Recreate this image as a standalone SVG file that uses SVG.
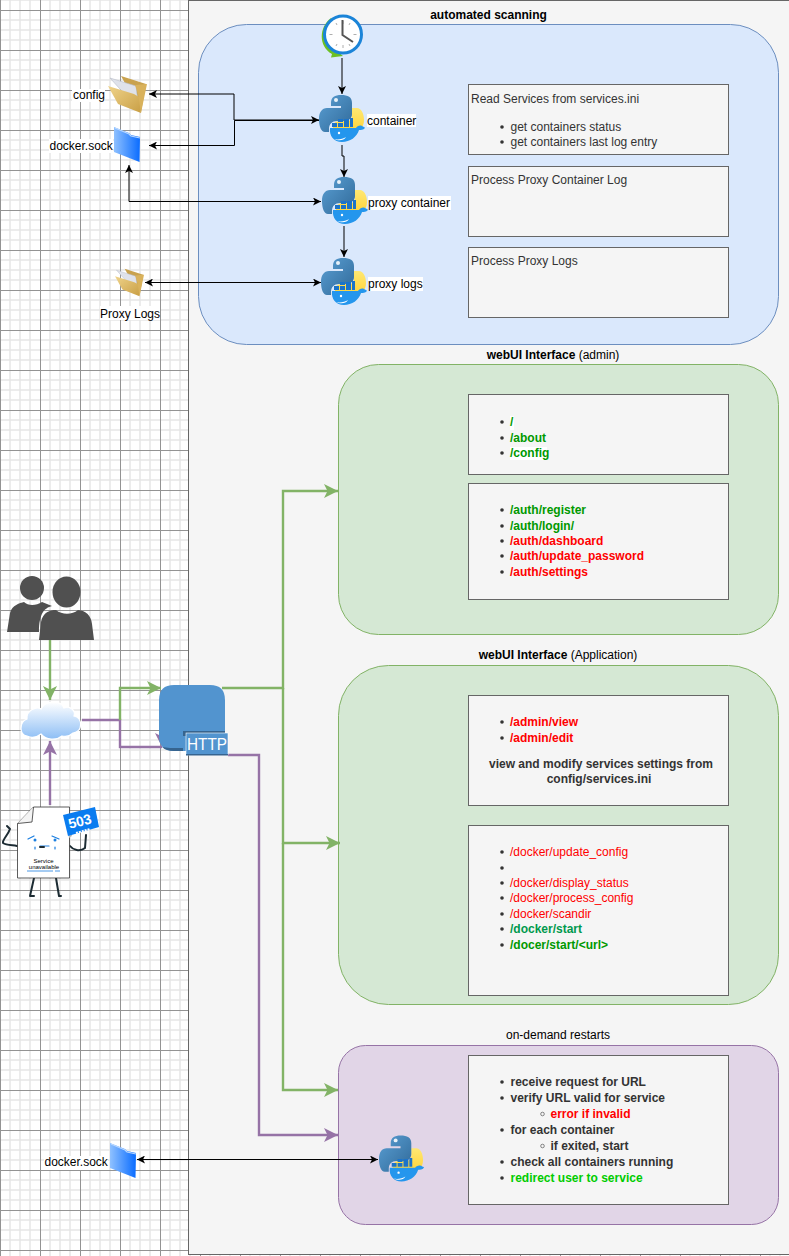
<svg xmlns="http://www.w3.org/2000/svg" width="789" height="1256" viewBox="0 0 789 1256">
<style>
text{font-family:"Liberation Sans",Arial,Helvetica,sans-serif;font-size:12px;fill:#000}
.t{fill:#333}
.b{font-weight:bold}
.r{fill:#f00}
.g{fill:#090}
.c{text-anchor:middle}
.box{fill:#f5f5f5;stroke:#666;stroke-width:1}
.bg{fill:#fff}
.dot{fill:#333}
.sub{fill:none;stroke:#555;stroke-width:.7}
.k{fill:none;stroke:#000;stroke-width:1}
.gr{fill:none;stroke:#82b366;stroke-width:2.4;marker-end:url(#ag)}
.pu{fill:none;stroke:#9673a6;stroke-width:2.4}
.limb{fill:none;stroke:#1c2b33;stroke-width:2;stroke-linecap:round;stroke-linejoin:round}
.face{fill:none;stroke:#1c7fe0;stroke-width:1.2;stroke-linecap:round}
</style>
<defs>
<pattern id="grid" width="40" height="40" x="0" y="10" patternUnits="userSpaceOnUse">
<path d="M10 0V40M20 0V40M30 0V40M0 10H40M0 20H40M0 30H40" stroke="#e6e6e6" stroke-width="1.5" fill="none"/>
<path d="M.5 0V40M0 .5H40" stroke="#939393" stroke-width="1" fill="none"/>
</pattern>
<marker id="ak" viewBox="0 0 10 10" refX="10" refY="5" markerUnits="userSpaceOnUse" markerWidth="8" markerHeight="8" orient="auto-start-reverse"><path d="M0 0L10 5L0 10L2.5 5Z" fill="#000"/></marker>
<marker id="ag" viewBox="0 0 10 10" refX="10" refY="5" markerUnits="userSpaceOnUse" markerWidth="14" markerHeight="14" orient="auto"><path d="M0 0L10 5L0 10L2.5 5Z" fill="#82b366"/></marker>
<marker id="ap" viewBox="0 0 10 10" refX="10" refY="5" markerUnits="userSpaceOnUse" markerWidth="14" markerHeight="14" orient="auto"><path d="M0 0L10 5L0 10L2.5 5Z" fill="#9673a6"/></marker>
<marker id="apd" viewBox="0 0 10 10" refX="10" refY="5" markerUnits="userSpaceOnUse" markerWidth="14" markerHeight="14" orient="90"><path d="M0 0L10 5L0 10L2.5 5Z" fill="#9673a6"/></marker>
<linearGradient id="py1" x1="0" y1="0" x2="1" y2="1"><stop offset="0" stop-color="#5a9fd4"/><stop offset="1" stop-color="#306998"/></linearGradient>
<linearGradient id="py2" x1="0" y1="0" x2="0" y2="1"><stop offset="0" stop-color="#ffe873"/><stop offset="1" stop-color="#ffd43b"/></linearGradient>
<linearGradient id="fb" x1="0" y1="0" x2="1" y2="0"><stop offset="0" stop-color="#8fc1ff"/><stop offset="1" stop-color="#0a6cff"/></linearGradient>
<linearGradient id="cl" x1="0" y1="0" x2="0" y2="1"><stop offset="0" stop-color="#fff"/><stop offset="1" stop-color="#8dbef5"/></linearGradient>
<linearGradient id="fy" x1="0" y1="0" x2="1" y2="1"><stop offset="0" stop-color="#efd38a"/><stop offset="1" stop-color="#c99f45"/></linearGradient>
<symbol id="pydock" viewBox="0 0 46 47" overflow="visible">
<path d="M33 13H38C42 13 45 18 45 25C45 31 42 35 38 36H14V32C14 28 17 26 21 26H28C31 26 33 24 33 21Z" fill="url(#py2)"/>
<path d="M12 8C12 2 16 0 22 0C29 0 33 2 33 8V19C33 23 30 26 26 26H18C13 26 10 29 10 34V37H6C2 37 0 31 0 24C0 17 3 13 8 13H22V11H12Z" fill="url(#py1)"/>
<circle cx="17" cy="5" r="2" fill="#e8f1f8"/>
<path d="M11 33H37C38 31 41 30 43 31C44 32 46 32 46 33C44 35 42 35 40 35C38 42 31 47 23 47C15 47 10 41 11 33Z" fill="#2496ed"/>
<path d="M13 28h5v4h-5zM19 28h5v4h-5zM25 24h5v8h-5zM31 23h3v9h-3zM19 24h5v3h-5z" fill="#1b73c9"/>
<circle cx="20" cy="38" r="1.2" fill="#fff"/>
<path d="M15 44C19 45 24 44 27 42C25 46 19 46 15 44Z" fill="#fff"/>
</symbol>
<symbol id="fold-y" viewBox="0 0 39 37" overflow="visible">
<path d="M13 0L38 8L33 36Z" fill="#c9a24e"/>
<path d="M2 2L28 10L31 34Z" fill="#dfe2ea" stroke="#b7bcc8" stroke-width=".6"/>
<path d="M0 10L26 18L31 21L33 37L10 28Z" fill="url(#fy)"/>
<path d="M27 9L39 8L33 37L30 18Z" fill="#d9b25c"/>
</symbol>
<symbol id="fold-b" viewBox="0 0 26 35" overflow="visible">
<path d="M0 0L15 6L17 8L26 10L25.500 35L0 25Z" fill="url(#fb)"/>
<path d="M1 1L15 7L17 9L26 11" fill="none" stroke="#b9d8ff" stroke-width="1.200"/>
</symbol>
</defs>

<rect width="789" height="1256" fill="#fff"/>
<rect width="789" height="1256" fill="url(#grid)"/>
<g id="background-panel"><rect x="188.500" y=".5" width="601" height="1254" fill="#f5f5f5" stroke="#666"/></g>

<g id="group-automated-scanning">
<rect x="198.500" y="24.500" width="580" height="320" rx="48" fill="#dae8fc" stroke="#6c8ebf"/>
<text x="488.500" y="19" class="c b">automated scanning</text>
</g>
<g id="group-admin">
<rect x="338.500" y="364.500" width="440" height="270" rx="40" fill="#d5e8d4" stroke="#82b366"/>
<text x="553" y="359" class="c"><tspan class="b">webUI Interface</tspan> (admin)</text>
</g>
<g id="group-application">
<rect x="338.500" y="665.500" width="440" height="339" rx="50" fill="#d5e8d4" stroke="#82b366"/>
<text x="558" y="659" class="c"><tspan class="b">webUI Interface</tspan> (Application)</text>
</g>
<g id="group-restarts">
<rect x="338.500" y="1045.500" width="440" height="179" rx="27" fill="#e1d5e7" stroke="#9673a6"/>
<text x="558" y="1039" class="c">on-demand restarts</text>
</g>

<g id="connectors">
<path class="k" d="M319 120H234V94H149" marker-end="url(#ak)" marker-start="url(#ak)" stroke-width="1.200"/>
<path class="k" d="M319 120.500H234.500V145.500H149" marker-end="url(#ak)"/>
<path class="k" d="M342 58V94" marker-end="url(#ak)"/>
<path class="k" d="M342 145V156H344V177" marker-end="url(#ak)"/>
<path class="k" d="M344 226V257" marker-end="url(#ak)"/>
<path class="k" d="M321 201.500H129V165" marker-start="url(#ak)" marker-end="url(#ak)"/>
<path class="k" d="M145 282.500H321" marker-start="url(#ak)" marker-end="url(#ak)"/>
<path class="k" d="M137 1159.500H378" marker-start="url(#ak)" marker-end="url(#ak)"/>
<path class="gr" d="M50 640V700"/>
<path class="pu" d="M82 720H120V747H162" marker-end="url(#apd)"/>
<path class="gr" d="M120 720V688H161"/>
<path class="pu" d="M50 805V741" marker-end="url(#ap)"/>
<path class="gr" d="M222 688H283V491H338"/>
<path class="gr" d="M283 688V843H340"/>
<path class="gr" d="M283 843V1090H338"/>
<path class="pu" d="M228 755H259V1135H338" marker-end="url(#ap)"/>
</g>

<g id="node-clock">
<path d="M331 18C319 27 318 46 332 54L331 57.500L343 56L336 50C326 44 326 30 334 22Z" fill="#6cc024"/>
<circle cx="343" cy="34.500" r="18.500" fill="#fff" stroke="#1b84d8" stroke-width="3"/>
<path d="M343 21V24M343 45V48M329.500 34.500H332.500M353.500 34.500H356.500M336 23L337 25M350 23L349 25M350 46L349 44M336 46L337 44" stroke="#999" stroke-width=".8"/>
<path d="M342.500 20V35L353 42" fill="none" stroke="#555" stroke-width="2"/>
</g>
<g id="node-container"><use href="#pydock" x="319" y="95" width="46" height="47"/><rect class="bg" x="367" y="114" width="49" height="13"/><text x="367" y="125">container</text></g>
<g id="node-proxy-container"><use href="#pydock" x="322" y="177" width="46" height="47"/><rect class="bg" x="368" y="196" width="83" height="14"/><text x="368" y="207">proxy container</text></g>
<g id="node-proxy-logs"><use href="#pydock" x="321" y="258" width="46" height="47"/><rect class="bg" x="368" y="277" width="55" height="14"/><text x="368" y="288">proxy logs</text></g>
<g id="node-restart-container"><use href="#pydock" x="379" y="1135" width="45" height="47"/></g>

<g id="node-config"><use href="#fold-y" x="108" y="76" width="39" height="37"/><rect class="bg" x="72" y="89" width="33" height="13"/><text x="73" y="99">config</text></g>
<g id="node-docker-sock"><use href="#fold-b" x="114" y="127" width="26" height="35"/><rect class="bg" x="49" y="139" width="64" height="14"/><text x="49.500" y="150">docker.sock</text></g>
<g id="node-proxy-logs-folder"><use href="#fold-y" x="115" y="268" width="29" height="29"/><rect class="bg" x="100" y="306" width="60" height="14"/><text x="100" y="318">Proxy Logs</text></g>
<g id="node-docker-sock-2"><use href="#fold-b" x="110" y="1143" width="26" height="35"/><rect class="bg" x="44" y="1156" width="64" height="14"/><text x="44.500" y="1166">docker.sock</text></g>

<g id="node-users" fill="#505050">
<circle cx="32" cy="588" r="12"/>
<path d="M7 632L10 613C12 605 20 603 24 602C28 606 36 606 42 602L52 606C44 608 39 614 39 632Z"/>
<ellipse cx="66.500" cy="592" rx="14" ry="15.500"/>
<path d="M39 640L41 622C43 612 50 610 56 610C62 615 72 615 78 610C86 611 91 615 92 624L94 640Z"/>
</g>
<g id="node-cloud"><path d="M27 736C19 735 19 722 27 719C26 710 37 706 41 709C45 700 61 700 64 708C70 705 76 711 74 716C83 718 83 732 73 733C70 736 66 737 62 736C56 741 46 740 41 734C36 738 31 738 27 736Z" fill="url(#cl)" stroke="#fff" stroke-width="1.200"/></g>
<g id="node-http">
<path d="M159 700Q159 685 174 685H210Q225 685 225 700V736Q225 751 210 751H174Q159 751 159 736Z" fill="#5294cf"/>
<path d="M162 747Q166 751 174 751H183V748H170Z" fill="#36648f"/>
<path d="M183 731H225V733H186V736H183Z" fill="#36648f"/>
<rect x="186" y="733" width="42" height="22" fill="#5294cf" stroke="#fff" stroke-width=".6"/>
<path d="M186 754H228V755.500H186Z" fill="#36648f"/>
<text x="187" y="750" font-size="17" textLength="40" lengthAdjust="spacingAndGlyphs" style="font-size:17px;fill:#fff">HTTP</text>
</g>
<g id="node-503">
<path d="M7 826L10 829C8 835 2 840 3 843C6 845 11 845 17 846M70 846C73 850 80 852 85 848L86 835M34 878L30 896H34M56 878L59 896H61" class="limb"/>
<path d="M33.500 807H69.500V878H17.500V823.500Z" fill="#fff" stroke="#333" stroke-width=".8"/>
<path d="M33.500 807L32 822L17.500 823.500" fill="#f4f4f4" stroke="#333" stroke-width=".8"/>
<path d="M28 839L34 836M52 836L59 839M40 846H49M35 847V849M55 847V849" class="face"/>
<circle cx="35" cy="840" r="1.500" fill="#1c7fe0"/><circle cx="55" cy="840" r="1.500" fill="#1c7fe0"/>
<path d="M44 847L40 847" class="limb" stroke-width="1"/>
<text x="43.500" y="863" class="c" style="font-size:6px">Service</text>
<text x="44" y="869" class="c" style="font-size:6px">unavailable</text>
<path d="M27 871H53M55 871H60" stroke="#1c7fe0" stroke-width=".8"/>
<path d="M65 816L69 838L72 836L68 816Z" fill="#bbb"/>
<path d="M63 815L95 807L99 827L68 836Z" fill="#0a7cf0"/>
<text x="81" y="826" class="c b" transform="rotate(-14 81 826)" style="font-size:14px;fill:#fff">503</text>
<path d="M76 833L90 829" stroke="#fff" stroke-width="2" stroke-dasharray="2 1"/>
</g>

<g id="panel-read-services">
<rect class="box" x="468.500" y="84.500" width="260" height="70"/>
<text class="t" x="471" y="103">Read Services from services.ini</text>
<circle class="dot" cx="502" cy="127" r="1.800"/><text class="t" x="510.500" y="131">get containers status</text>
<circle class="dot" cx="502" cy="142" r="1.800"/><text class="t" x="510.500" y="146">get containers last log entry</text>
</g>
<g id="panel-proxy-container"><rect class="box" x="468.500" y="166.500" width="260" height="70"/><text class="t" x="471" y="184">Process Proxy Container Log</text></g>
<g id="panel-proxy-logs"><rect class="box" x="468.500" y="247.500" width="260" height="70"/><text class="t" x="471" y="265">Process Proxy Logs</text></g>

<g id="panel-routes">
<rect class="box" x="468.500" y="394.500" width="260" height="80"/>
<rect class="bg" x="510" y="416" width="4" height="14"/><rect class="bg" x="510" y="447" width="37" height="13"/>
<circle class="dot" cx="502" cy="422" r="1.800"/><text class="b g" x="510" y="426">/</text>
<circle class="dot" cx="502" cy="438" r="1.800"/><text class="b g" x="510" y="442">/about</text>
<circle class="dot" cx="502" cy="453" r="1.800"/><text class="b g" x="510" y="457">/config</text>
</g>
<g id="panel-auth">
<rect class="box" x="468.500" y="483.500" width="260" height="116"/>
<circle class="dot" cx="502" cy="510" r="1.800"/><text class="b g" x="510" y="514">/auth/register</text>
<circle class="dot" cx="502" cy="526" r="1.800"/><text class="b g" x="510" y="530">/auth/login/</text>
<circle class="dot" cx="502" cy="541" r="1.800"/><text class="b r" x="510" y="545">/auth/dashboard</text>
<circle class="dot" cx="502" cy="556" r="1.800"/><text class="b r" x="510" y="560">/auth/update_password</text>
<circle class="dot" cx="502" cy="572" r="1.800"/><text class="b r" x="510" y="576">/auth/settings</text>
</g>
<g id="panel-admin">
<rect class="box" x="468.500" y="695.500" width="260" height="110"/>
<circle class="dot" cx="502" cy="722" r="1.800"/><text class="b r" x="510" y="726">/admin/view</text>
<circle class="dot" cx="502" cy="738" r="1.800"/><text class="b r" x="510" y="742">/admin/edit</text>
<text class="t b c" x="601" y="768">view and modify services settings from</text>
<text class="t b c" x="599" y="783">config/services.ini</text>
</g>
<g id="panel-docker">
<rect class="box" x="468.500" y="825.500" width="260" height="170"/>
<circle class="dot" cx="502" cy="852" r="1.800"/><text class="r" x="510" y="856">/docker/update_config</text>
<circle class="dot" cx="502" cy="868" r="1.800"/>
<circle class="dot" cx="502" cy="883" r="1.800"/><text class="r" x="510" y="887">/docker/display_status</text>
<circle class="dot" cx="502" cy="898" r="1.800"/><text class="r" x="510" y="902">/docker/process_config</text>
<circle class="dot" cx="502" cy="914" r="1.800"/><text class="r" x="510" y="918">/docker/scandir</text>
<circle class="dot" cx="502" cy="929" r="1.800"/><text class="b" style="fill:#00994d" x="510" y="933">/docker/start</text>
<circle class="dot" cx="502" cy="945" r="1.800"/><text class="b g" x="510" y="949">/docer/start/&lt;url&gt;</text>
</g>
<g id="panel-restarts">
<rect class="box" x="468.500" y="1055.500" width="260" height="149"/>
<circle class="dot" cx="502" cy="1082" r="1.800"/><text class="t b" x="510.500" y="1086">receive request for URL</text>
<circle class="dot" cx="502" cy="1098" r="1.800"/><text class="t b" x="510.500" y="1102">verify URL valid for service</text>
<circle class="sub" cx="542.500" cy="1114" r="1.800"/><text class="b r" x="550.500" y="1118">error if invalid</text>
<circle class="dot" cx="502" cy="1130" r="1.800"/><text class="t b" x="510.500" y="1134">for each container</text>
<circle class="sub" cx="542.500" cy="1146" r="1.800"/><text class="t b" x="550.500" y="1150">if exited, start</text>
<circle class="dot" cx="502" cy="1162" r="1.800"/><text class="t b" x="510.500" y="1166">check all containers running</text>
<circle class="dot" cx="502" cy="1178" r="1.800"/><text class="b" style="fill:#0c0" x="510.500" y="1182">redirect user to service</text>
</g>
</svg>
